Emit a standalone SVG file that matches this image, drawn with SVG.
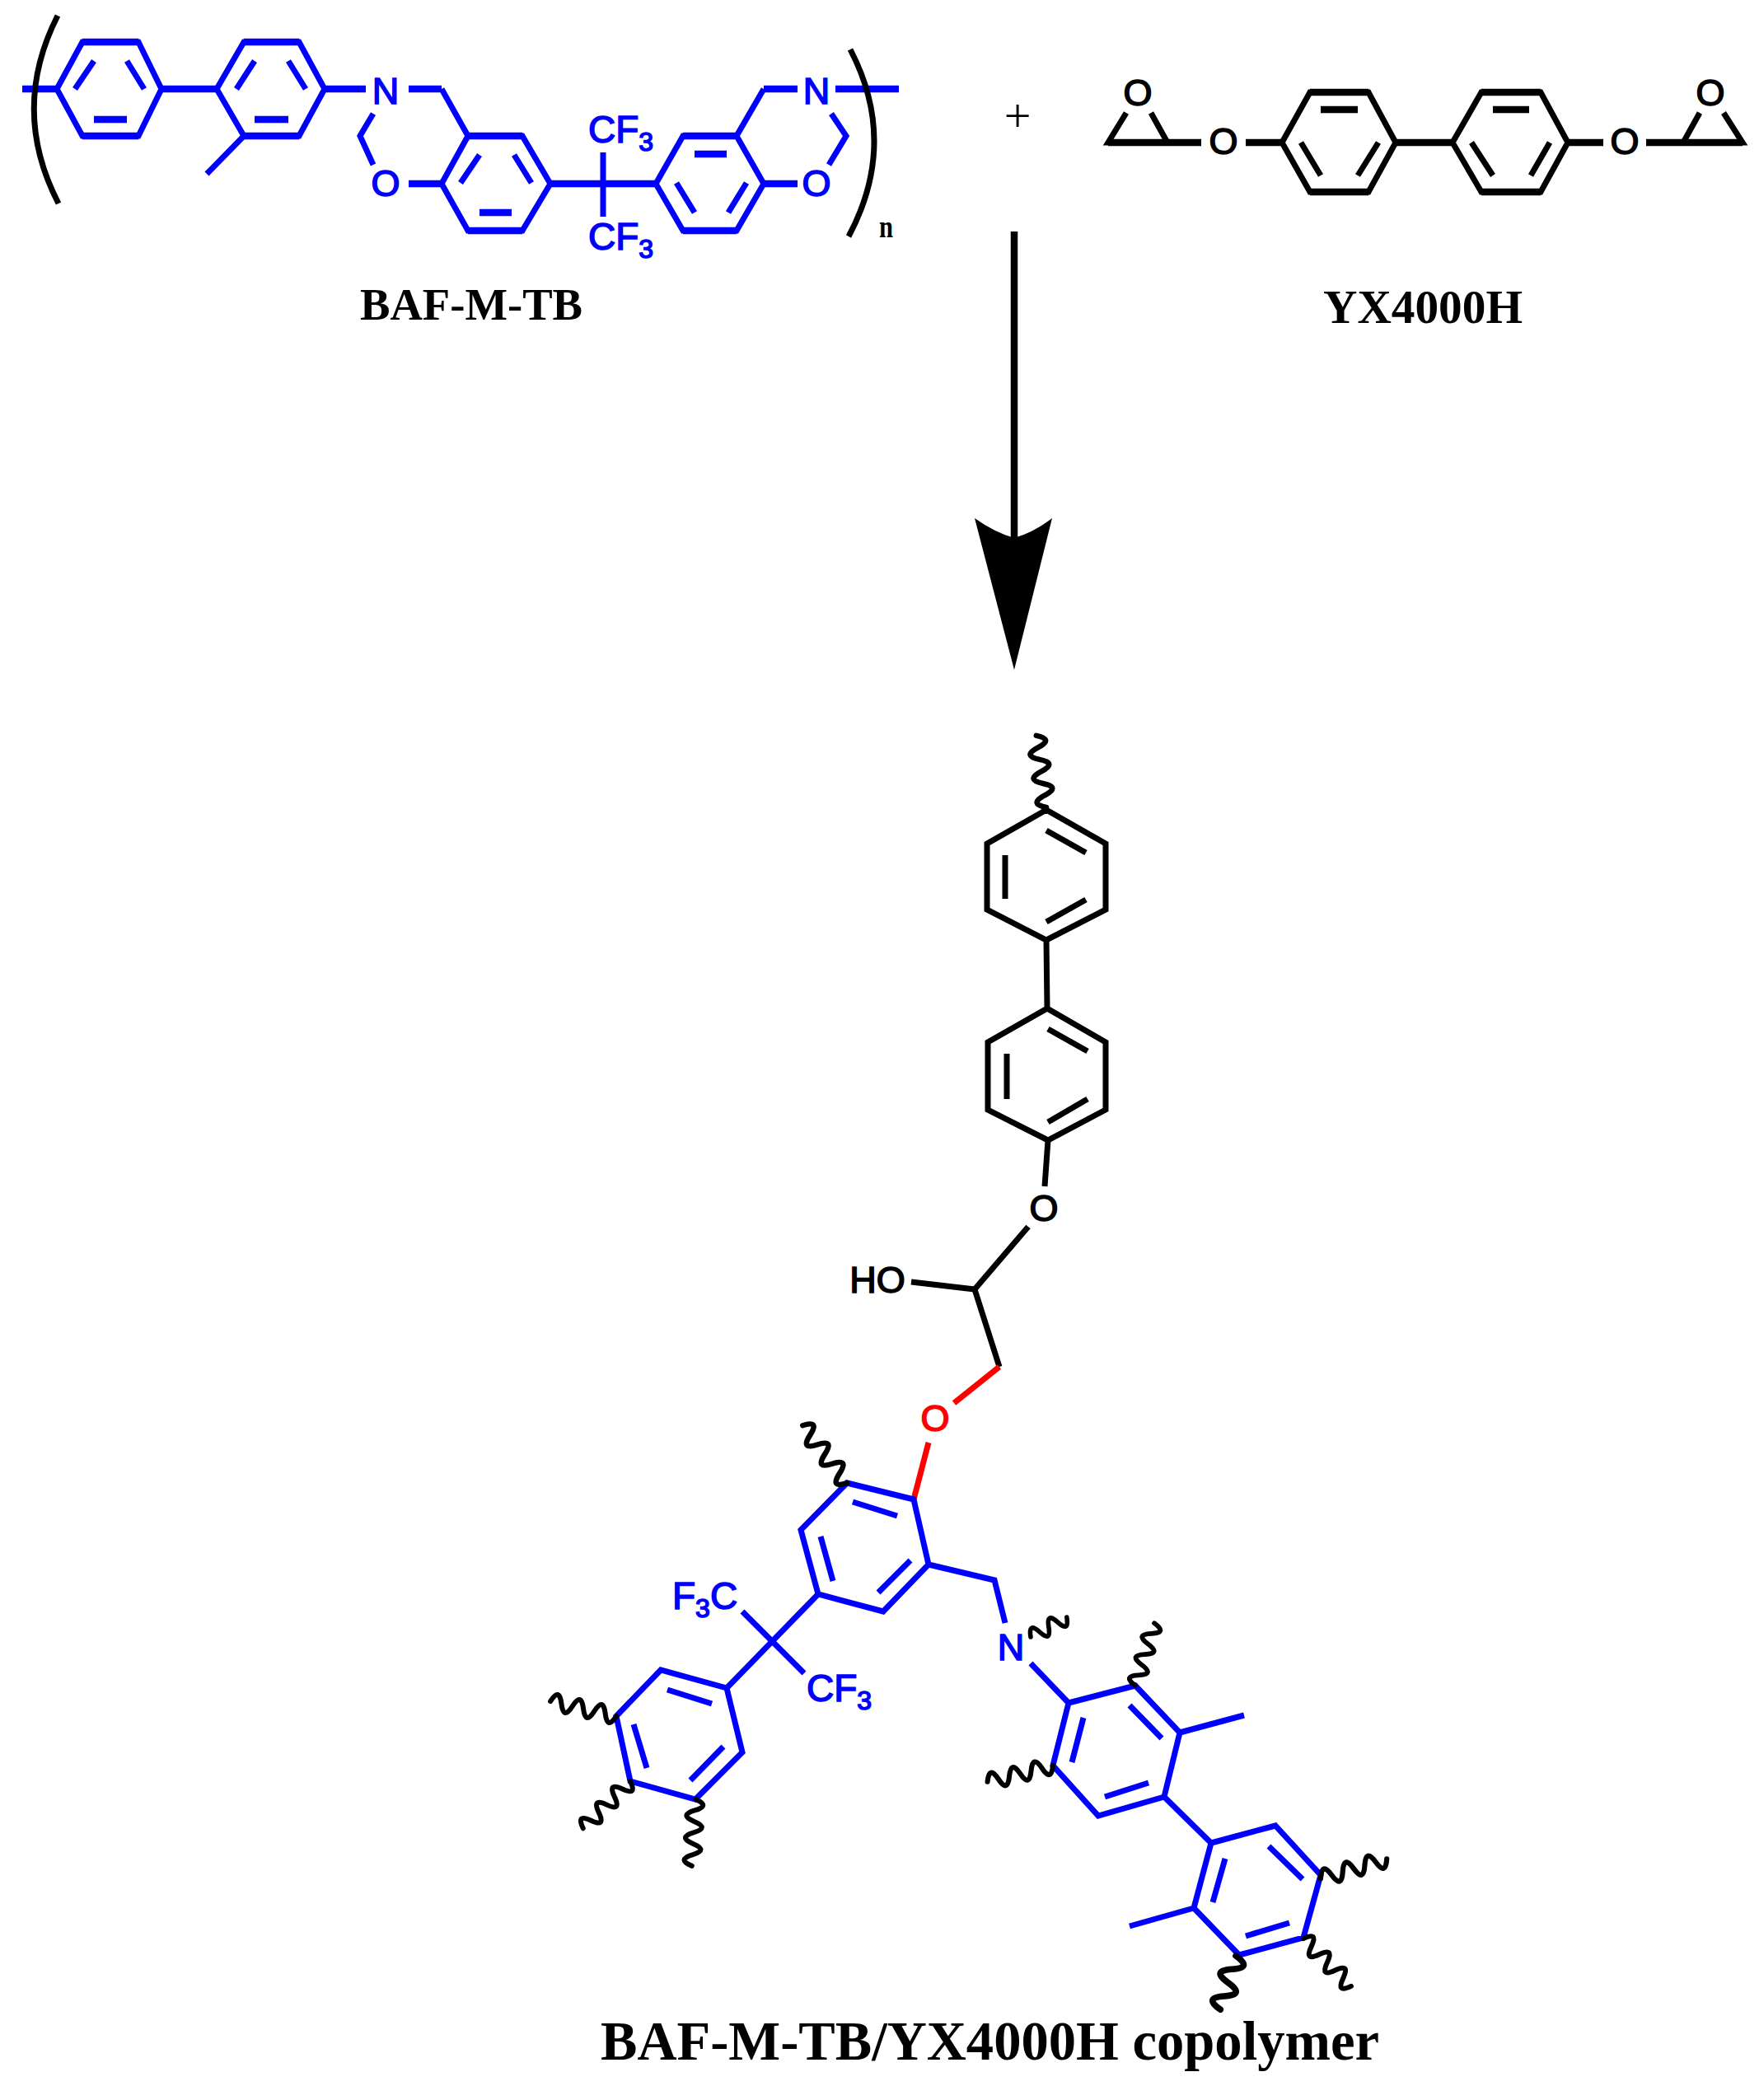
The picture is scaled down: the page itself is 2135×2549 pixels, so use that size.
<svg xmlns="http://www.w3.org/2000/svg" width="2135" height="2549" viewBox="0 0 2135 2549">
<style>
.b{fill:none;stroke-width:7;stroke-linejoin:miter;stroke-linecap:butt}
.h{fill:none;stroke-width:8.5;stroke-linecap:butt}
.blue{stroke:#0000ff}.blk{stroke:#000}.red{stroke:#ff0000}
.w{fill:none;stroke:#000;stroke-width:6.5;stroke-linecap:round}
.a{font-family:"Liberation Sans",Arial,sans-serif;font-size:45px;text-anchor:middle;stroke-width:1.6}
.c{font-family:"Liberation Sans",Arial,sans-serif;font-size:46px;stroke-width:1.6}
.fb{fill:#0000ff;stroke:#0000ff}.fk{fill:#000;stroke:#000}.fr{fill:#ff0000;stroke:#ff0000}
.t{font-family:"Liberation Serif","Times New Roman",serif;font-weight:bold;fill:#000}
</style>
<defs>
<path id="w6" class="w" d="M0 0q7.33 -21 14.67 0t14.67 0t14.67 0t14.67 0t14.67 0t14.67 0"/>
<path id="w4" class="w" d="M0 0q7.25 -21 14.5 0t14.5 0t14.5 0t14.5 0"/>
</defs>

<g id="BAF-M-TB">
<path class="b blue" d="M27 108H69L100 51H168L196 108L168 165H100L69 108M114 74L91 108M154 74L175 108M263 108L296 51H363L394 108L363 165H296L263 108M309 74L287 108M350 74L371 108M296 165L251 211M536 108L568 165H634L668 223L634 280H568L536 223L568 165M582 188L559 222M624 188L645 222M732 185V263M796 223L829 165H894L927 223L894 280H829L796 223M906 222L884 258M821 222L843 258M894 165L927 108M453 138L437 165L453 200M1009 138L1027 165L1006 200"/>
<path class="h blue" d="M27 108H69M100 51H168M100 165H168M114 145H154M196 108H263M296 51H363M296 165H363M309 145H350M394 108H444M496 108H536M568 165H634M568 280H634M582 258H621M668 223H796M829 165H894M829 280H894M843 187H882M496 223H536M927 223H968M927 108H968M1014 108H1091"/>
<text class="a fb" x="468" y="126">N</text>
<text class="a fb" x="468" y="238">O</text>
<text class="a fb" x="991" y="126">N</text>
<text class="a fb" x="991" y="238">O</text>
<text class="c fb" x="714" y="173">CF<tspan font-size="32" dy="10">3</tspan></text>
<text class="c fb" x="714" y="303">CF<tspan font-size="32" dy="10">3</tspan></text>
<path class="b blk" d="M70 19Q12 133 71 247M1032 60Q1091 173 1030 287"/>
<text class="t" x="1067" y="288" font-size="38" textLength="17" lengthAdjust="spacingAndGlyphs">n</text>
<text class="t" x="437" y="388" font-size="54" textLength="270" lengthAdjust="spacingAndGlyphs">BAF-M-TB</text>
</g>

<g id="plus">
<text x="1235" y="160" text-anchor="middle" font-size="58" fill="#000" font-family="Liberation Serif,serif">+</text>
</g>

<g id="YX4000H">
<path class="b blk" d="M1367 137L1345 173H1417L1397 137M1556 173L1590 112H1661L1694 173L1661 233H1590L1556 173M1579 173L1603 213M1673 173L1648 213M1763 173L1798 112H1870L1903 173L1870 233H1798L1763 173M1786 173L1812 213M1881 173L1858 213M2063 137L2043 173H2115L2092 137"/>
<path class="h blk" d="M1345 173H1458M1512 173H1556M1590 112H1661M1590 233H1661M1603 133H1648M1694 173H1763M1798 112H1870M1798 233H1870M1812 133H1856M1903 173H1946M1998 173H2115"/>
<text class="a fk" x="1381" y="128">O</text>
<text class="a fk" x="1485" y="187">O</text>
<text class="a fk" x="1972" y="187">O</text>
<text class="a fk" x="2076" y="128">O</text>
<text class="t" x="1606" y="392" font-size="58" textLength="242" lengthAdjust="spacingAndGlyphs">YX4000H</text>
</g>

<g id="arrow">
<path class="h blk" d="M1231 281V660"/>
<path fill="#000" d="M1183 629Q1207 646 1231 653Q1255 646 1277 629L1231 813Z"/>
</g>

<g id="copolymer">
<path class="b blk" d="M1270 983L1342 1024V1104L1270 1141L1198 1104V1024ZM1270 1008L1318 1035M1270 1119L1318 1092M1220 1038V1091M1270 1141L1271 1224M1271 1224L1342 1265V1347L1272 1384L1199 1347V1265ZM1272 1249L1320 1276M1272 1362L1320 1334M1222 1279V1334M1272 1384L1268 1440M1248 1489L1183 1565L1213 1659M1106 1556L1183 1565"/>
<path class="b red" d="M1213 1659L1158 1703M1127 1751L1109 1820"/>
<path class="b blue" d="M1109 1820L1127 1899L1072 1956L993 1935L972 1857L1028 1800ZM1035 1823L1089 1840M1105 1894L1066 1933M996 1865L1011 1919M993 1935L882 2049M901 1956L976 2031M882 2049L901 2127L844 2184L765 2162L748 2083L802 2027ZM810 2051L864 2068M878 2120L838 2161M769 2093L785 2146M1127 1899L1207 1918L1220 1970M1251 2019L1297 2067M1297 2067L1378 2046L1432 2103L1413 2181L1333 2204L1278 2143ZM1371 2070L1410 2110M1394 2164L1341 2181M1315 2085L1301 2139M1432 2103L1510 2082M1413 2181L1470 2237M1470 2237L1548 2216L1603 2276L1582 2352L1504 2373L1449 2316ZM1540 2241L1581 2281M1565 2334L1512 2350M1487 2256L1472 2309M1449 2316L1371 2338"/>
<use href="#w6" transform="translate(1270 980) rotate(-98)"/>
<use href="#w6" transform="translate(1028 1800) rotate(232.4)"/>
<use href="#w6" transform="translate(748 2083) rotate(192.7) scale(.93)"/>
<use href="#w6" transform="translate(765 2162) rotate(135) scale(.92)"/>
<use href="#w6" transform="translate(844 2184) rotate(93) scale(.92)"/>
<use href="#w4" transform="translate(1251 1987) rotate(-28.6) scale(.86)"/>
<use href="#w6" transform="translate(1378 2046) rotate(-73) scale(.9)"/>
<use href="#w6" transform="translate(1278 2143) rotate(166) scale(.93)"/>
<use href="#w6" transform="translate(1603 2280) rotate(-16.5) scale(.95)"/>
<use href="#w6" transform="translate(1582 2353) rotate(45) scale(.93)"/>
<use href="#w4" transform="translate(1500 2374) rotate(106) scale(1.17)"/>
<text class="a fk" x="1267" y="1482">O</text>
<text class="a fk" x="1065" y="1569">HO</text>
<text class="a fr" x="1135" y="1737">O</text>
<text class="c fb" x="816" y="1953">F<tspan font-size="32" dy="10">3</tspan><tspan dy="-10">C</tspan></text>
<text class="c fb" x="979" y="2065">CF<tspan font-size="32" dy="10">3</tspan></text>
<text class="a fb" x="1227" y="2015">N</text>
<text class="t" x="729" y="2500" font-size="67" textLength="945" lengthAdjust="spacingAndGlyphs">BAF-M-TB/YX4000H copolymer</text>
</g>
</svg>
